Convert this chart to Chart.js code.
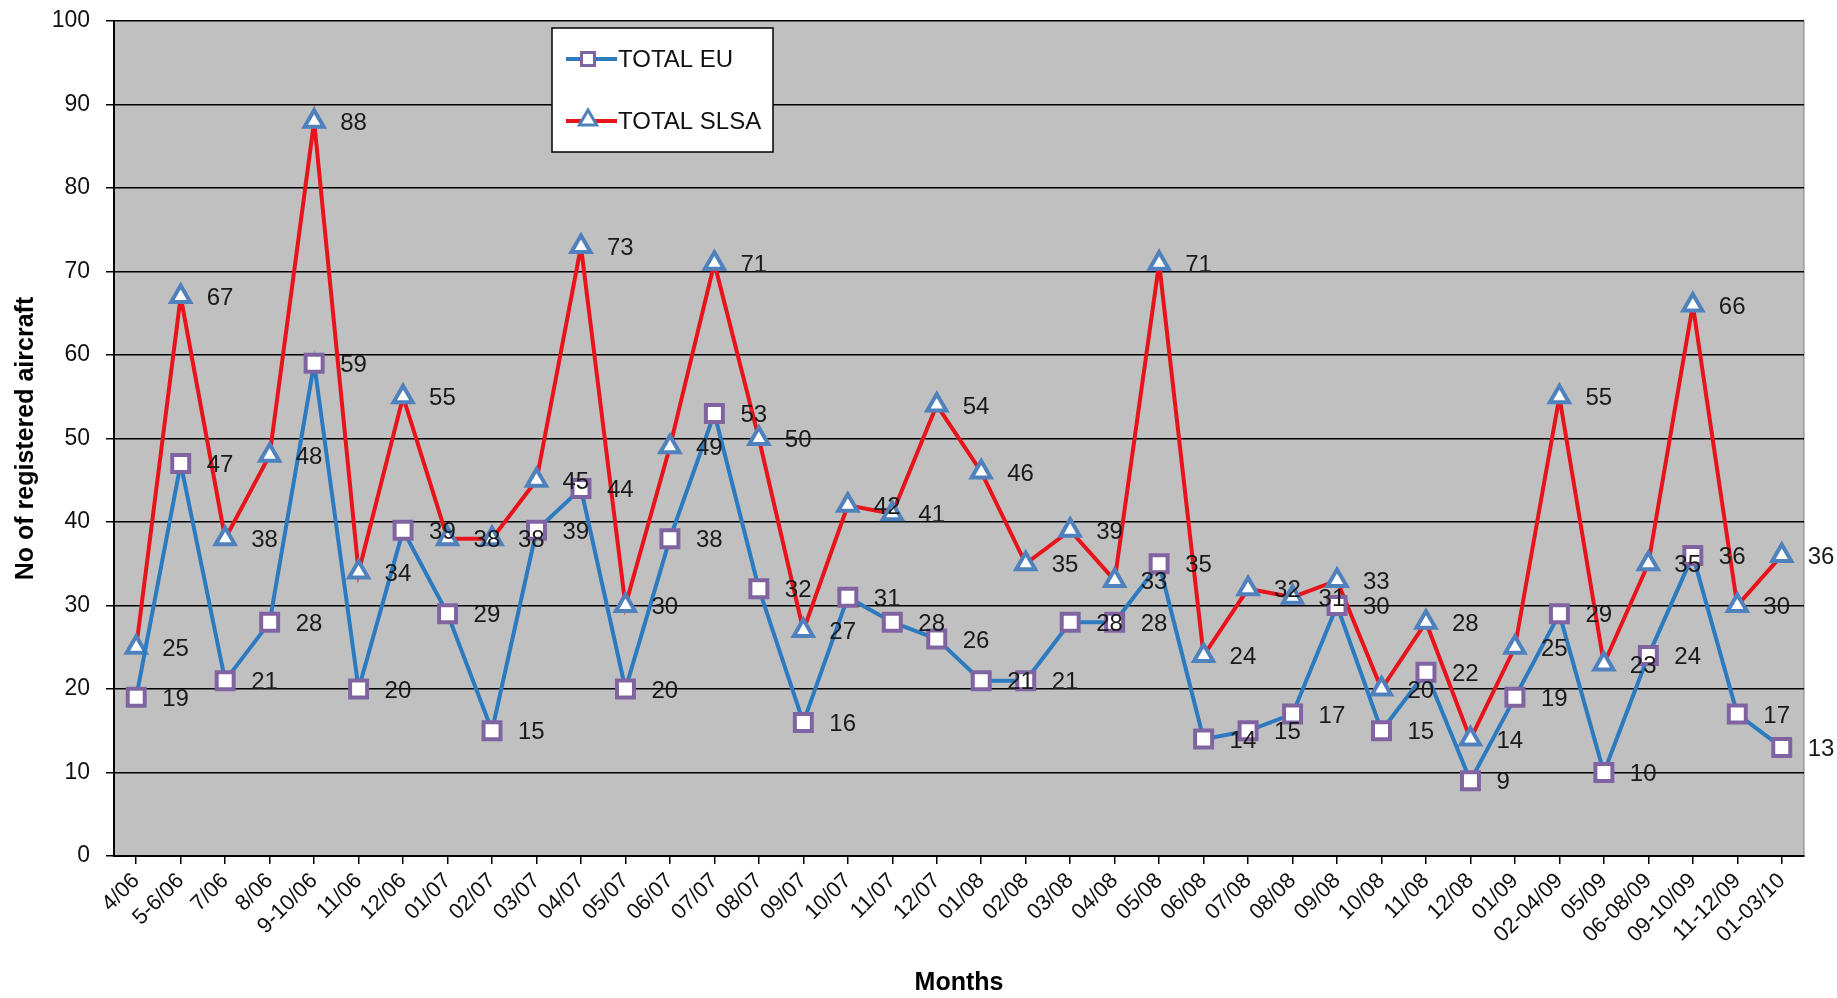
<!DOCTYPE html>
<html lang="en">

<head>
    <meta charset="UTF-8">
    <title>Registered aircraft by month</title>
    <script src="https://cdn.jsdelivr.net/npm/chart.js@4.4.1/dist/chart.umd.min.js"></script>
    <style>
        html, body { margin: 0; padding: 0; background: #fff; }
        #wrap { width: 1837px; height: 998px; position: relative; }
    </style>
</head>

<body>
    <div id="wrap">
        <canvas id="aircraftChart"></canvas>
    </div>

    <script>
        const months = ['4/06', '5-6/06', '7/06', '8/06', '9-10/06', '11/06', '12/06', '01/07', '02/07', '03/07',
            '04/07', '05/07', '06/07', '07/07', '08/07', '09/07', '10/07', '11/07', '12/07', '01/08',
            '02/08', '03/08', '04/08', '05/08', '06/08', '07/08', '08/08', '09/08', '10/08', '11/08',
            '12/08', '01/09', '02-04/09', '05/09', '06-08/09', '09-10/09', '11-12/09', '01-03/10'];

        const totalEU = [19, 47, 21, 28, 59, 20, 39, 29, 15, 39, 44, 20, 38, 53, 32, 16, 31, 28, 26, 21,
            21, 28, 28, 35, 14, 15, 17, 30, 15, 22, 9, 19, 29, 10, 24, 36, 17, 13];

        const totalSLSA = [25, 67, 38, 48, 88, 34, 55, 38, 38, 45, 73, 30, 49, 71, 50, 27, 42, 41, 54, 46,
            35, 39, 33, 71, 24, 32, 31, 33, 20, 28, 14, 25, 55, 23, 35, 66, 30, 36];

        const yTicks = [0, 10, 20, 30, 40, 50, 60, 70, 80, 90, 100];

        const FONT = 'Arial, "Liberation Sans", sans-serif';
        const EU_LINE = '#2C7BC0';
        const EU_MARK = '#8064A2';
        const SLSA_LINE = '#E8141C';
        const SLSA_MARK = '#4F81BD';

        // grey plot area like the old Excel chart
        const plotBackground = {
            id: 'plotBackground',
            beforeDraw(chart) {
                const { ctx, chartArea: a } = chart;
                ctx.save();
                ctx.fillStyle = '#fff';
                ctx.fillRect(0, 0, chart.width, chart.height);
                ctx.fillStyle = '#C0C0C0';
                ctx.fillRect(a.left, a.top, a.right - a.left, a.bottom - a.top);
                ctx.strokeStyle = '#808080';
                ctx.lineWidth = 1;
                ctx.beginPath();
                ctx.moveTo(a.right, a.top);
                ctx.lineTo(a.right, a.bottom);
                ctx.stroke();
                ctx.restore();
            }
        };

        // value labels to the right of each marker
        const valueLabels = {
            id: 'valueLabels',
            afterDatasetsDraw(chart) {
                const ctx = chart.ctx;
                ctx.save();
                ctx.font = '24px ' + FONT;
                ctx.fillStyle = '#1a1a1a';
                ctx.textAlign = 'left';
                ctx.textBaseline = 'middle';
                chart.data.datasets.forEach((ds, i) => {
                    const meta = chart.getDatasetMeta(i);
                    meta.data.forEach((pt, j) => {
                        ctx.fillText(String(ds.data[j]), pt.x + 26, pt.y + 2);
                    });
                });
                ctx.restore();
            }
        };

        function square(ctx, x, y, s) {
            ctx.beginPath();
            ctx.rect(x - s / 2, y - s / 2, s, s);
            ctx.fill();
            ctx.stroke();
        }

        function triangle(ctx, x, y, r) {
            ctx.beginPath();
            ctx.moveTo(x, y - r);
            ctx.lineTo(x + r * 0.866, y + r * 0.5);
            ctx.lineTo(x - r * 0.866, y + r * 0.5);
            ctx.closePath();
            ctx.fill();
            ctx.stroke();
        }

        // boxed legend sitting inside the plot area
        const boxLegend = {
            id: 'boxLegend',
            afterDraw(chart) {
                const ctx = chart.ctx;
                const bx = 552, by = 28, bw = 221, bh = 124;
                ctx.save();
                ctx.fillStyle = '#fff';
                ctx.fillRect(bx, by, bw, bh);
                ctx.strokeStyle = '#000';
                ctx.lineWidth = 1.5;
                ctx.strokeRect(bx, by, bw, bh);

                const items = [
                    { label: 'TOTAL EU', line: EU_LINE, mark: EU_MARK, y: 59, shape: 'rect' },
                    { label: 'TOTAL SLSA', line: SLSA_LINE, mark: SLSA_MARK, y: 121, shape: 'tri' }
                ];
                items.forEach(it => {
                    ctx.strokeStyle = it.line;
                    ctx.lineWidth = 4;
                    ctx.beginPath();
                    ctx.moveTo(566, it.y);
                    ctx.lineTo(617, it.y);
                    ctx.stroke();
                    ctx.fillStyle = '#fff';
                    ctx.strokeStyle = it.mark;
                    ctx.lineWidth = 3;
                    if (it.shape === 'rect') square(ctx, 588, it.y, 13);
                    else triangle(ctx, 588, it.y - 1, 10);
                    ctx.fillStyle = '#111';
                    ctx.font = '24px ' + FONT;
                    ctx.textAlign = 'left';
                    ctx.textBaseline = 'middle';
                    ctx.fillText(it.label, 618, it.y + 1);
                });
                ctx.restore();
            }
        };

        const ctx = document.getElementById('aircraftChart').getContext('2d');
        new Chart(ctx, {
            type: 'line',
            data: {
                labels: months,
                datasets: [{
                    label: 'TOTAL EU',
                    data: totalEU,
                    borderColor: EU_LINE,
                    borderWidth: 4,
                    pointStyle: 'rect',
                    pointRadius: 12,
                    pointBackgroundColor: '#fff',
                    pointBorderColor: EU_MARK,
                    pointBorderWidth: 4,
                    tension: 0
                }, {
                    label: 'TOTAL SLSA',
                    data: totalSLSA,
                    borderColor: SLSA_LINE,
                    borderWidth: 4,
                    pointStyle: 'triangle',
                    pointRadius: 11,
                    pointBackgroundColor: '#fff',
                    pointBorderColor: SLSA_MARK,
                    pointBorderWidth: 4,
                    tension: 0
                }]
            },
            options: {
                responsive: true,
                maintainAspectRatio: false,
                animation: false,
                layout: { padding: { top: 21, right: 33, left: 0, bottom: 0 } },
                plugins: {
                    legend: { display: false },
                    tooltip: { enabled: false }
                },
                scales: {
                    x: {
                        offset: true,
                        grid: {
                            drawOnChartArea: false,
                            drawTicks: true,
                            tickLength: 8,
                            color: '#000',
                            lineWidth: 1.5
                        },
                        border: { color: '#000', width: 2 },
                        ticks: {
                            autoSkip: false,
                            minRotation: 45,
                            maxRotation: 45,
                            padding: 4,
                            color: '#111',
                            font: { family: FONT, size: 22 }
                        },
                        title: {
                            display: true,
                            text: 'Months',
                            color: '#000',
                            font: { family: FONT, size: 25, weight: 'bold' },
                            padding: { top: 0, bottom: 0 }
                        },
                        afterFit(scale) { scale.height = 142; }
                    },
                    y: {
                        min: 0,
                        max: 100,
                        afterBuildTicks(scale) { scale.ticks = yTicks.map(v => ({ value: v })); },
                        grid: {
                            color: '#000',
                            lineWidth: 1.5,
                            drawTicks: true,
                            tickLength: 8
                        },
                        border: { color: '#000', width: 2 },
                        ticks: {
                            padding: 16,
                            color: '#111',
                            font: { family: FONT, size: 23 }
                        },
                        title: {
                            display: true,
                            text: 'No of registered aircraft',
                            color: '#000',
                            font: { family: FONT, size: 25, weight: 'bold' },
                            padding: { top: 11, bottom: 0 }
                        },
                        afterFit(scale) {
                            scale.width = 114;
                            // keep the label padding from pushing the plot down
                            scale.paddingTop = 14;
                            scale.paddingBottom = 14;
                        }
                    }
                }
            },
            plugins: [plotBackground, valueLabels, boxLegend]
        });
    </script>
</body>

</html>
